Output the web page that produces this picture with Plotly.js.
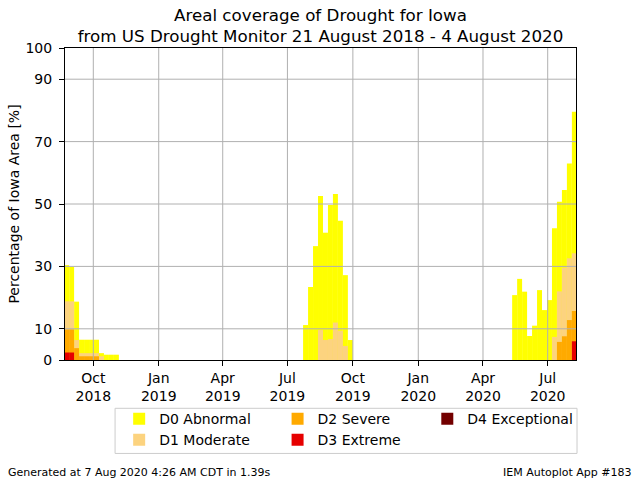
<!DOCTYPE html>
<html>
<head>
<meta charset="utf-8">
<script src="https://cdn.plot.ly/plotly-3.0.1.min.js"></script>
<style>
  html, body { margin: 0; padding: 0; background: #fff; }
  #chart { width: 640px; height: 480px; }
</style>
</head>
<body>
<div id="chart"></div>
<script>
// ---------- DATA ----------
// USDM weekly maps (Tuesdays), 21 Aug 2018 .. 4 Aug 2020
const weeks = [
  "2018-08-21", "2018-08-28", "2018-09-04", "2018-09-11", "2018-09-18", "2018-09-25",
  "2018-10-02", "2018-10-09", "2018-10-16", "2018-10-23", "2018-10-30", "2018-11-06",
  "2018-11-13", "2018-11-20", "2018-11-27", "2018-12-04", "2018-12-11", "2018-12-18",
  "2018-12-25",
  "2019-01-01", "2019-01-08", "2019-01-15", "2019-01-22", "2019-01-29", "2019-02-05",
  "2019-02-12", "2019-02-19", "2019-02-26", "2019-03-05", "2019-03-12", "2019-03-19",
  "2019-03-26", "2019-04-02", "2019-04-09", "2019-04-16", "2019-04-23", "2019-04-30",
  "2019-05-07", "2019-05-14", "2019-05-21", "2019-05-28", "2019-06-04", "2019-06-11",
  "2019-06-18", "2019-06-25", "2019-07-02", "2019-07-09", "2019-07-16", "2019-07-23",
  "2019-07-30", "2019-08-06", "2019-08-13", "2019-08-20", "2019-08-27", "2019-09-03",
  "2019-09-10", "2019-09-17", "2019-09-24", "2019-10-01", "2019-10-08", "2019-10-15",
  "2019-10-22", "2019-10-29", "2019-11-05", "2019-11-12", "2019-11-19", "2019-11-26",
  "2019-12-03", "2019-12-10", "2019-12-17", "2019-12-24", "2019-12-31",
  "2020-01-07", "2020-01-14", "2020-01-21", "2020-01-28", "2020-02-04", "2020-02-11",
  "2020-02-18", "2020-02-25", "2020-03-03", "2020-03-10", "2020-03-17", "2020-03-24",
  "2020-03-31", "2020-04-07", "2020-04-14", "2020-04-21", "2020-04-28", "2020-05-05",
  "2020-05-12", "2020-05-19", "2020-05-26", "2020-06-02", "2020-06-09", "2020-06-16",
  "2020-06-23", "2020-06-30", "2020-07-07", "2020-07-14", "2020-07-21", "2020-07-28",
  "2020-08-04"
];

// percent of state area in each category or worse
const d0 = [
  30.4, 29.8, 18.7, 6.5, 6.5, 6.5, 6.5, 2.2, 1.7, 1.7, 1.7, 0,
  0, 0, 0, 0, 0, 0, 0,
  0, 0, 0, 0, 0, 0, 0, 0, 0, 0, 0, 0, 0, 0, 0, 0, 0, 0,
  0, 0, 0, 0, 0, 0, 0, 0, 0, 0, 0,
  11.2, 23.4, 36.5, 52.6, 40.8, 49.7, 53.2, 44.6, 27.2, 6.4,
  0, 0, 0, 0, 0, 0, 0, 0, 0, 0, 0, 0, 0, 0,
  0, 0, 0, 0, 0, 0, 0, 0, 0, 0, 0, 0, 0, 0, 0, 0, 0, 0,
  20.8, 26.0, 21.9, 7.7, 11.0, 22.4, 16.0, 19.2,
  42.2, 50.7, 54.5, 63.0, 79.6
];
const d1 = [
  18.8, 18.8, 6.4, 2.2, 2.2, 2.2, 2.2, 1.2, 0, 0, 0, 0,
  0, 0, 0, 0, 0, 0, 0,
  0, 0, 0, 0, 0, 0, 0, 0, 0, 0, 0, 0, 0, 0, 0, 0, 0, 0,
  0, 0, 0, 0, 0, 0, 0, 0, 0, 0, 0,
  0, 0, 0, 9.6, 6.4, 6.7, 12.0, 9.4, 4.5, 0,
  0, 0, 0, 0, 0, 0, 0, 0, 0, 0, 0, 0, 0, 0,
  0, 0, 0, 0, 0, 0, 0, 0, 0, 0, 0, 0, 0, 0, 0, 0, 0, 0,
  0, 0, 0, 0, 0, 0, 0, 0,
  7.4, 22.0, 29.6, 32.6, 34.2
];
const d2 = [
  9.8, 9.8, 3.8, 1.2, 1.2, 1.2, 1.2, 0, 0, 0, 0, 0,
  0, 0, 0, 0, 0, 0, 0,
  0, 0, 0, 0, 0, 0, 0, 0, 0, 0, 0, 0, 0, 0, 0, 0, 0, 0,
  0, 0, 0, 0, 0, 0, 0, 0, 0, 0, 0,
  0, 0, 0, 0, 0, 0, 0, 0, 0, 0,
  0, 0, 0, 0, 0, 0, 0, 0, 0, 0, 0, 0, 0, 0,
  0, 0, 0, 0, 0, 0, 0, 0, 0, 0, 0, 0, 0, 0, 0, 0, 0, 0,
  0, 0, 0, 0, 0, 0, 0, 0,
  0, 5.8, 7.6, 12.8, 15.7
];
const d3 = [
  2.4, 2.4, 0, 0, 0, 0, 0, 0, 0, 0, 0, 0,
  0, 0, 0, 0, 0, 0, 0,
  0, 0, 0, 0, 0, 0, 0, 0, 0, 0, 0, 0, 0, 0, 0, 0, 0, 0,
  0, 0, 0, 0, 0, 0, 0, 0, 0, 0, 0,
  0, 0, 0, 0, 0, 0, 0, 0, 0, 0,
  0, 0, 0, 0, 0, 0, 0, 0, 0, 0, 0, 0, 0, 0,
  0, 0, 0, 0, 0, 0, 0, 0, 0, 0, 0, 0, 0, 0, 0, 0, 0, 0,
  0, 0, 0, 0, 0, 0, 0, 0,
  0, 0, 0, 0, 6.0
];
const d4 = [
  0, 0, 0, 0, 0, 0, 0, 0, 0, 0, 0, 0,
  0, 0, 0, 0, 0, 0, 0,
  0, 0, 0, 0, 0, 0, 0, 0, 0, 0, 0, 0, 0, 0, 0, 0, 0, 0,
  0, 0, 0, 0, 0, 0, 0, 0, 0, 0, 0,
  0, 0, 0, 0, 0, 0, 0, 0, 0, 0,
  0, 0, 0, 0, 0, 0, 0, 0, 0, 0, 0, 0, 0, 0,
  0, 0, 0, 0, 0, 0, 0, 0, 0, 0, 0, 0, 0, 0, 0, 0, 0, 0,
  0, 0, 0, 0, 0, 0, 0, 0,
  0, 0, 0, 0, 0
];

const catNames = ["D0 Abnormal", "D1 Moderate", "D2 Severe", "D3 Extreme", "D4 Exceptional"];
const catColors = ["#ffff00", "#fcd37f", "#ffaa00", "#e60000", "#730000"];
const catLegend = ["legend", "legend", "legend2", "legend2", "legend3"];

const xTickVals = ["2018-10-01", "2019-01-01", "2019-04-01", "2019-07-01",
                   "2019-10-01", "2020-01-01", "2020-04-01", "2020-07-01"];
const xTickText = ["Oct<br>2018", "Jan<br>2019", "Apr<br>2019", "Jul<br>2019",
                   "Oct<br>2019", "Jan<br>2020", "Apr<br>2020", "Jul<br>2020"];
const yTickVals = [0, 10, 30, 50, 70, 90, 100];

// ---------- TRACES ----------
const WEEK_MS = 7 * 24 * 3600 * 1000;
const series = [d0, d1, d2, d3, d4];

const traces = series.map((vals, i) => ({
  type: "bar",
  x: weeks,
  y: vals,
  name: catNames[i],
  width: WEEK_MS,
  offset: 0,
  marker: { color: catColors[i], line: { width: 0 } },
  legend: catLegend[i],
  hoverinfo: "x+y+name"
}));

// ---------- GRID (drawn over bars, like the original) ----------
const gridColor = "#b0b0b0";
const shapes = [];
xTickVals.forEach(v => shapes.push({
  type: "line", xref: "x", yref: "paper", x0: v, x1: v, y0: 0, y1: 1,
  line: { color: gridColor, width: 1 }, layer: "above"
}));
yTickVals.filter(v => v > 0 && v < 100).forEach(v => shapes.push({
  type: "line", xref: "paper", yref: "y", x0: 0, x1: 1, y0: v, y1: v,
  line: { color: gridColor, width: 1 }, layer: "above"
}));
// legend frame
shapes.push({
  type: "rect", xref: "paper", yref: "paper",
  x0: 0.098, x1: 1.002, y0: -0.2995, y1: -0.1548,
  line: { color: "#cccccc", width: 1 }, fillcolor: "#ffffff", layer: "below"
});

const font = "DejaVu Sans, sans-serif";
const legendBase = {
  orientation: "v", xanchor: "left", yanchor: "top", y: -0.138,
  bgcolor: "rgba(0,0,0,0)", borderwidth: 0, tracegroupgap: 0,
  font: { family: font, size: 14, color: "#000" }
};

const layout = {
  width: 640,
  height: 480,
  margin: { l: 65, r: 64, t: 48, b: 120 },
  paper_bgcolor: "#fff",
  plot_bgcolor: "#fff",
  font: { family: font, size: 14, color: "#000" },
  barmode: "overlay",
  title: {
    text: "Areal coverage of Drought for Iowa<br>from US Drought Monitor 21 August 2018 - 4 August 2020",
    font: { family: font, size: 16.7, color: "#000" },
    x: 0.5, xref: "paper", xanchor: "center",
    y: 0.957, yref: "container", yanchor: "top"
  },
  xaxis: {
    type: "date",
    range: ["2018-08-22 05:00:00", "2020-08-09 19:00:00"],
    tickmode: "array",
    tickvals: xTickVals,
    ticktext: xTickText,
    showgrid: false,
    zeroline: false,
    showline: true, mirror: true, linecolor: "#000", linewidth: 1,
    ticks: "outside", ticklen: 5, tickcolor: "#000",
    tickfont: { family: font, size: 14 }
  },
  yaxis: {
    range: [0, 100],
    tickmode: "array",
    tickvals: yTickVals,
    showgrid: false,
    zeroline: false,
    showline: true, mirror: true, linecolor: "#000", linewidth: 1,
    ticks: "outside", ticklen: 5, tickcolor: "#000",
    ticklabelstandoff: 4,
    tickfont: { family: font, size: 14 },
    title: { text: "Percentage of Iowa Area [%]", font: { family: font, size: 14 }, standoff: 2 }
  },
  showlegend: true,
  legend: Object.assign({}, legendBase, { x: 0.106 }),
  legend2: Object.assign({}, legendBase, { x: 0.416 }),
  legend3: Object.assign({}, legendBase, { x: 0.709 }),
  shapes: shapes,
  annotations: [
    {
      text: "Generated at 7 Aug 2020 4:26 AM CDT in 1.39s",
      xref: "paper", yref: "paper", x: -0.1155, y: -0.359,
      xanchor: "left", yanchor: "middle", showarrow: false,
      font: { family: font, size: 11, color: "#000" }
    },
    {
      text: "IEM Autoplot App #183",
      xref: "paper", yref: "paper", x: 1.1135, y: -0.359,
      xanchor: "right", yanchor: "middle", showarrow: false,
      font: { family: font, size: 11, color: "#000" }
    }
  ]
};

Plotly.newPlot("chart", traces, layout, { displayModeBar: false, staticPlot: true });
</script>
</body>
</html>
